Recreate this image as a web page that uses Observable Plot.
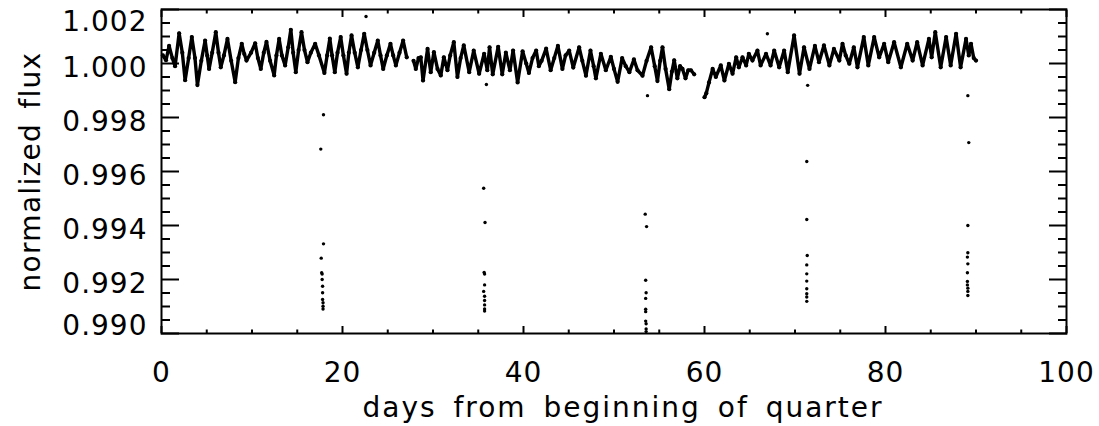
<!DOCTYPE html>
<html><head><meta charset="utf-8">
<script src="https://cdn.jsdelivr.net/npm/d3@7"></script>
<script src="https://cdn.jsdelivr.net/npm/@observablehq/plot@0.6"></script>
<style>html,body{margin:0;padding:0;background:#fff}</style>
</head><body><div id="chart"></div>
<script>
// Light curve, first stretch (days, normalized flux)
const seg1Day = [0.15,0.50,0.84,1.20,1.50,1.95,2.30,2.61,3.00,3.35,3.70,3.97,4.40,4.82,5.05,5.26,5.60,6.00,6.30,6.55,6.90,7.29,7.70,8.14,8.50,8.87,9.15,9.39,9.90,10.35,10.65,10.97,11.30,11.60,12.00,12.45,12.70,13.00,13.30,13.66,14.00,14.29,14.55,14.84,15.15,15.47,15.80,16.13,16.50,16.98,17.40,18.00,18.30,18.60,18.85,19.15,19.45,19.80,20.10,20.45,20.70,21.00,21.35,21.70,22.05,22.40,22.75,23.10,23.50,23.90,24.20,24.50,24.90,25.30,25.60,25.90,26.30,26.70,27.10];
const seg1Flux = [1.00030,1.00012,1.00065,1.00020,0.99990,1.00112,1.00040,0.99938,1.00020,1.00098,1.00020,0.99920,1.00010,1.00085,1.00030,0.99980,1.00040,1.00116,1.00040,0.99986,1.00030,1.00091,1.00010,0.99931,1.00020,1.00073,1.00035,1.00011,1.00040,1.00075,1.00020,0.99980,1.00040,1.00080,1.00010,0.99956,1.00030,1.00091,1.00030,0.99993,1.00060,1.00125,1.00040,0.99968,1.00050,1.00116,1.00050,1.00005,1.00040,1.00073,1.00030,0.99965,1.00030,1.00092,1.00030,0.99968,1.00040,1.00098,1.00030,0.99962,1.00040,1.00104,1.00040,0.99986,1.00050,1.00110,1.00050,0.99993,1.00040,1.00085,1.00030,0.99980,1.00030,1.00073,1.00030,0.99993,1.00040,1.00085,1.00023];
// second stretch
const seg2Day = [27.85,28.10,28.40,28.65,28.90,29.40,29.75,30.10,30.50,30.86,31.20,31.60,31.90,32.30,32.70,33.05,33.40,34.00,34.50,35.10,35.65,36.00,36.25,36.60,37.20,37.65,38.05,38.50,38.85,39.35,39.90,40.30,40.60,41.00,41.40,41.70,42.00,42.50,43.00,43.40,43.80,44.30,44.65,45.05,45.50,46.15,46.50,46.90,47.40,47.75,48.00,48.55,49.10,49.65,50.00,50.40,50.90,51.30,51.70,52.20,52.60,53.15,53.60,54.10,54.50,54.80,55.10,55.36,55.70,56.10,56.40,56.65,57.00,57.30,57.57,57.90,58.20,58.50,58.86];
const seg2Flux = [1.00010,0.99980,1.00020,1.00023,0.99937,1.00054,0.99968,1.00042,0.99980,0.99956,1.00023,0.99975,1.00030,1.00079,0.99950,1.00020,1.00067,0.99968,1.00048,0.99962,1.00036,0.99975,1.00060,0.99960,1.00062,0.99960,1.00040,0.99975,1.00048,0.99930,1.00045,1.00000,0.99965,1.00020,1.00048,0.99990,1.00010,1.00055,0.99975,1.00020,1.00065,0.99980,1.00030,1.00048,0.99985,1.00060,1.00010,0.99955,1.00048,0.99990,0.99945,1.00036,0.99975,1.00025,0.99980,0.99932,1.00020,0.99990,0.99968,1.00015,0.99975,0.99955,1.00010,1.00060,0.99990,0.99935,1.00010,1.00060,0.99980,0.99905,0.99970,1.00012,0.99945,0.99990,0.99980,0.99945,0.99975,0.99975,0.99960];
// third stretch
const seg3Day = [60.00,60.20,60.50,60.90,61.25,61.80,62.20,62.70,63.10,63.50,63.80,64.20,64.60,64.90,65.30,65.85,66.20,66.80,67.30,67.70,68.25,68.80,69.20,69.90,70.50,71.00,71.60,72.20,72.65,73.20,73.80,74.30,74.90,75.25,75.60,76.00,76.50,76.90,77.60,78.10,78.75,79.30,79.85,80.30,80.95,81.70,82.40,83.00,83.50,84.10,84.80,85.10,85.50,86.10,86.70,87.20,87.80,88.30,88.90,89.20,89.45,89.75,90.00];
const seg3Flux = [0.99875,0.99890,0.99930,0.99980,0.99950,0.99993,0.99937,0.99999,0.99962,1.00023,0.99986,1.00023,0.99993,1.00036,1.00011,1.00048,0.99993,1.00036,0.99993,1.00048,0.99986,1.00048,0.99968,1.00104,0.99962,1.00060,0.99980,1.00065,1.00005,1.00067,0.99993,1.00054,1.00011,1.00073,1.00030,0.99999,1.00060,0.99986,1.00098,0.99993,1.00098,1.00023,1.00073,1.00005,1.00079,0.99986,1.00073,1.00011,1.00079,0.99993,1.00091,1.00023,1.00116,0.99986,1.00098,0.99993,1.00110,0.99986,1.00091,1.00030,1.00073,1.00020,1.00011];
// transit and outlier points
const transitDay = [17.90,17.60,17.90,17.65,17.70,17.75,17.75,17.80,17.80,17.80,17.85,17.85,17.85,
  35.60,35.75,35.65,35.70,35.70,35.60,35.70,35.70,35.70,35.70,35.70,35.90,
  53.70,53.45,53.60,53.50,53.55,53.50,53.50,53.50,53.50,53.55,53.55,53.55,
  71.40,71.30,71.30,71.35,71.30,71.30,71.30,71.30,71.30,71.30,71.30,
  89.10,89.20,89.10,89.10,89.05,89.10,89.05,89.05,89.05,89.10,89.10,89.10];
const transitFlux = [0.99810,0.99683,0.99332,0.99279,0.99225,0.99220,0.99200,0.99175,0.99151,0.99126,0.99114,0.99101,0.99091,
  0.99538,0.99411,0.99226,0.99220,0.99180,0.99156,0.99138,0.99122,0.99106,0.99091,0.99083,0.99922,
  0.99881,0.99442,0.99396,0.99197,0.99151,0.99130,0.99090,0.99081,0.99046,0.99036,0.99017,0.99007,
  0.99919,0.99637,0.99422,0.99289,0.99254,0.99221,0.99194,0.99166,0.99147,0.99135,0.99119,
  0.99881,0.99707,0.99400,0.99299,0.99283,0.99258,0.99225,0.99193,0.99180,0.99168,0.99156,0.99141];
const outlierDay = [22.60, 66.95];
const outlierFlux = [1.00174, 1.00110];
// axes
const xMajor = [0, 20, 40, 60, 80, 100];
const xMinor = [5,10,15,25,30,35,45,50,55,65,70,75,85,90,95];
const yMajor = [0.990, 0.992, 0.994, 0.996, 0.998, 1.000, 1.002];
const yMinor = [0.9905,0.991,0.9915,0.9925,0.993,0.9935,0.9945,0.995,0.9955,0.9965,0.997,0.9975,0.9985,0.999,0.9995,1.0005,1.001,1.0015];
const xTitle = "days from beginning of quarter";
const yTitle = "normalized flux";

const band = [];
[[seg1Day, seg1Flux], [seg2Day, seg2Flux], [seg3Day, seg3Flux]].forEach(([ds, fs], s) => {
  ds.forEach((d, i) => band.push({day: d, flux: fs[i], seg: s}));
});
const pts = transitDay.map((d, i) => ({day: d, flux: transitFlux[i]}))
  .concat(outlierDay.map((d, i) => ({day: d, flux: outlierFlux[i]})));

const font = "DejaVu Sans";
const fmt = d3.format(".3f");
const noText = () => "";
const tickStyle = {strokeWidth: 2, label: null, tickFormat: noText};
const labelStyle = {tickSize: 0, label: null, fontSize: 28};

const chart = Plot.plot({
  width: 1099, height: 426,
  marginLeft: 161, marginRight: 33, marginTop: 9, marginBottom: 93,
  x: {domain: [0, 100]},
  y: {domain: [0.990, 1.002]},
  style: {fontFamily: font, fontSize: "28px", color: "black", background: "white", overflow: "visible"},
  marks: [
    Plot.line(band, {x: "day", y: "flux", z: "seg", stroke: "black", strokeWidth: 3.4, strokeLinejoin: "round"}),
    Plot.dot(band, {x: "day", y: "flux", r: 2.1, fill: "black", stroke: null}),
    Plot.dot(pts, {x: "day", y: "flux", r: 1.7, fill: "black", stroke: null}),
    Plot.frame({stroke: "black", strokeWidth: 2}),
    // inward ticks on all four sides
    Plot.axisX(xMajor, {anchor: "bottom", tickSize: -7, ...tickStyle}),
    Plot.axisX(xMinor, {anchor: "bottom", tickSize: -3.5, ...tickStyle}),
    Plot.axisX(xMajor, {anchor: "top", tickSize: -7, ...tickStyle}),
    Plot.axisX(xMinor, {anchor: "top", tickSize: -3.5, ...tickStyle}),
    Plot.axisY(yMajor, {anchor: "left", tickSize: -18, ...tickStyle}),
    Plot.axisY(yMinor, {anchor: "left", tickSize: -9, ...tickStyle}),
    Plot.axisY(yMajor, {anchor: "right", tickSize: -18, ...tickStyle}),
    Plot.axisY(yMinor, {anchor: "right", tickSize: -9, ...tickStyle}),
    // tick labels
    Plot.axisX(xMajor, {anchor: "bottom", tickPadding: 29, ...labelStyle, tickFormat: d => String(d)}),
    Plot.axisY(yMajor.filter(v => v > 0.9905 && v < 1.0015), {anchor: "left", tickPadding: 14, ...labelStyle, dy: 5, tickFormat: fmt}),
    Plot.axisY([1.002], {anchor: "left", tickPadding: 14, ...labelStyle, dy: 13, tickFormat: fmt}),
    Plot.axisY([0.990], {anchor: "left", tickPadding: 14, ...labelStyle, dy: -7, tickFormat: fmt}),
    // axis titles
    Plot.text([xTitle], {text: d => d, frameAnchor: "bottom", lineAnchor: "middle", textAnchor: "middle", dy: 75, dx: 9, fontSize: 28}),
    Plot.text([yTitle], {text: d => d, frameAnchor: "left", lineAnchor: "middle", textAnchor: "middle", rotate: -90, dx: -130, fontSize: 28})
  ]
});
// wider lettering like the original
const svg = d3.select(chart);
svg.selectAll("g[aria-label$='axis tick label'] text").style("letter-spacing", "1px");
const titles = svg.selectAll("g[aria-label='text'] text");
titles.style("letter-spacing", "2px").style("word-spacing", "6px");
titles.filter(function() { return this.textContent === yTitle; }).style("letter-spacing", "1.3px").style("word-spacing", "4px");
document.getElementById("chart").appendChild(chart);
</script>
</body></html>
